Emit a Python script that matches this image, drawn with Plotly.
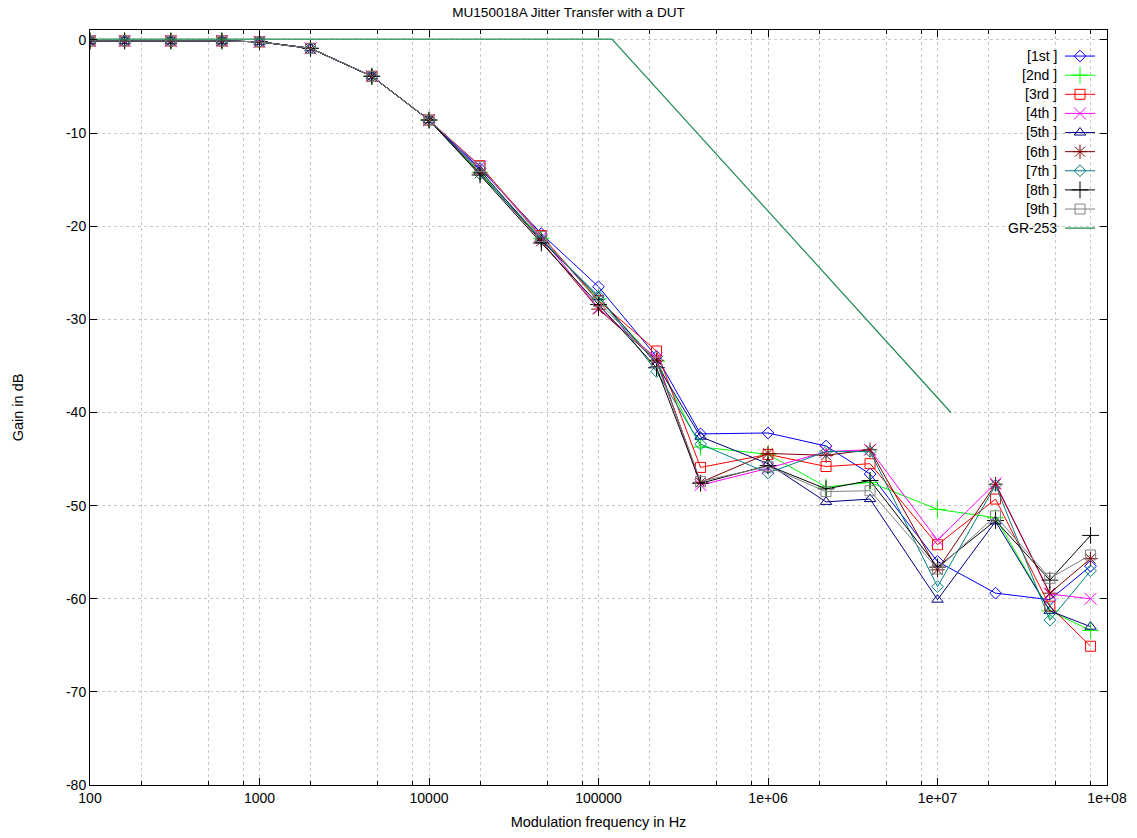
import plotly.graph_objects as go

freqs = [100, 160, 300, 600, 1000, 2000, 4600, 10000, 20000, 46000, 100000,
         220000, 400000, 1000000, 2200000, 4000000, 10000000, 22000000,
         46000000, 80000000]

early = [-0.1, -0.1, -0.1, -0.1, -0.2, -0.9, -3.9, -8.6]

s1 = early + [-13.8, -20.8, -26.5, -34.0, -42.3, -42.2, -43.6, -46.6, -56.0, -59.4, -60.1, -56.5]
s2 = early + [-14.2, -21.3, -27.8, -34.5, -43.7, -44.5, -48.0, -47.5, -50.4, -51.3, -61.3, -63.4]
s3 = early + [-13.5, -21.0, -28.0, -33.4, -45.9, -44.5, -45.8, -45.5, -54.2, -49.3, -60.8, -65.1]
s4 = early + [-13.6, -21.2, -28.8, -34.2, -47.8, -46.0, -44.2, -44.0, -53.7, -47.6, -59.5, -60.0]
s5 = early + [-14.0, -21.5, -27.6, -34.8, -42.6, -45.5, -49.6, -49.3, -60.1, -51.7, -61.3, -63.0]
s6 = early + [-14.3, -21.6, -28.9, -34.4, -47.5, -44.4, -44.6, -44.0, -56.9, -47.7, -59.4, -55.7]
s7 = early + [-14.4, -21.4, -27.5, -35.6, -43.4, -46.5, -44.2, -44.2, -58.7, -47.8, -62.3, -57.0]
s8 = early + [-14.5, -21.8, -28.4, -35.2, -47.6, -45.7, -48.2, -47.3, -56.6, -51.6, -58.0, -53.2]
s9 = early + [-13.6, -21.1, -28.1, -34.6, -47.4, -45.8, -48.5, -48.4, -56.8, -51.1, -57.8, -55.3]

mask_freqs = [100, 120000, 12000000]
mask_gain = [0.1, 0.1, -40.0]

names = ["[1st ]", "[2nd ]", "[3rd ]", "[4th ]", "[5th ]", "[6th ]", "[7th ]", "[8th ]", "[9th ]"]
mask_name = "GR-253"
series = [s1, s2, s3, s4, s5, s6, s7, s8, s9]
colors = ["#0000ff", "#00ff00", "#ff0000", "#ff00ff", "#000080", "#800000", "#008080", "#000000", "#808080"]
mask_color = "#1f8a50"
symbols = ["diamond-open", "cross-thin-open", "square-open", "x-thin-open", "triangle-up-open",
           "asterisk-open", "diamond-open", "cross-thin-open", "square-open"]
sizes = [9, 12, 10, 12, 10, 12, 9, 12, 10]

x_major = [100, 1000, 10000, 100000, 1000000, 10000000, 100000000]
x_major_text = ["100", "1000", "10000", "100000", "1e+06", "1e+07", "1e+08"]
x_minor = [m * 10 ** k for k in range(2, 8) for m in (2, 5, 8)]
y_ticks = [0, -10, -20, -30, -40, -50, -60, -70, -80]

font = "Liberation Sans, Arial, sans-serif"

fig = go.Figure()
for name, ys, c, sym, sz in zip(names, series, colors, symbols, sizes):
    fig.add_trace(go.Scatter(
        x=freqs, y=ys, name=" ", meta=name, mode="lines+markers",
        hovertemplate=name + ": %{x}, %{y}<extra></extra>",
        line=dict(color=c, width=1),
        marker=dict(symbol=sym, size=sz, color=c, line=dict(color=c, width=1)),
    ))
fig.add_trace(go.Scatter(
    x=mask_freqs, y=mask_gain, name=" ", meta=mask_name, mode="lines",
    hovertemplate=mask_name + ": %{x}, %{y}<extra></extra>",
    line=dict(color=mask_color, width=1.2),
))

# gnuplot-style key: label text to the left of the legend sample
plot_top, plot_bottom, plot_left, plot_right = 30, 785, 90, 1107
row0, row_step = 56, 19.1
label_right_px = 1059
for i, label in enumerate(names + [mask_name]):
    ypx = row0 + i * row_step
    fig.add_annotation(
        x=(label_right_px - plot_left) / (plot_right - plot_left), xref="paper",
        y=(plot_bottom - ypx) / (plot_bottom - plot_top), yref="paper",
        text=label, showarrow=False, xanchor="right", yanchor="middle",
        font=dict(family=font, size=14, color="black"),
    )

legend_left_px = 1060
fig.update_layout(
    width=1137, height=838,
    margin=dict(l=90, r=30, t=30, b=53, autoexpand=False),
    paper_bgcolor="white", plot_bgcolor="white",
    font=dict(family=font, size=14, color="black"),
    title=dict(text="MU150018A Jitter Transfer with a DUT", x=0.5, xanchor="center",
               y=1 - 12 / 838, yanchor="middle", font=dict(size=13.6)),
    showlegend=True,
    legend=dict(x=(legend_left_px - plot_left) / (plot_right - plot_left),
                y=1 - (41.5 - plot_top) / (plot_bottom - plot_top),
                xanchor="left", yanchor="top",
                bgcolor="rgba(0,0,0,0)", borderwidth=0,
                font=dict(size=12.4, color="rgba(0,0,0,0)"),
                tracegroupgap=0, itemwidth=30),
    xaxis=dict(
        type="log", range=[2, 8], automargin=False,
        tickmode="array", tickvals=x_major, ticktext=x_major_text,
        ticks="inside", ticklen=7, tickcolor="black",
        showline=True, linecolor="black", linewidth=1, mirror="ticks",
        showgrid=True, gridcolor="#c8c8c8", griddash="dot", gridwidth=1,
        zeroline=False, tickfont=dict(size=14),
        minor=dict(tickmode="array", tickvals=x_minor, ticks="inside", ticklen=4,
                   tickcolor="black", showgrid=True, gridcolor="#c8c8c8",
                   griddash="dot", gridwidth=1),
        title=dict(text="Modulation frequency in Hz", standoff=12, font=dict(size=14.5)),
    ),
    yaxis=dict(
        range=[-80, 1.07], automargin=False,
        tickmode="array", tickvals=y_ticks, ticktext=[str(v) for v in y_ticks],
        ticks="inside", ticklen=7, tickcolor="black",
        showline=True, linecolor="black", linewidth=1, mirror="ticks",
        showgrid=True, gridcolor="#c8c8c8", griddash="dot", gridwidth=1,
        zeroline=False, tickfont=dict(size=14),
        title=dict(text="Gain in dB", standoff=38, font=dict(size=14.5)),
    ),
)

fig.write_html("out.html")
